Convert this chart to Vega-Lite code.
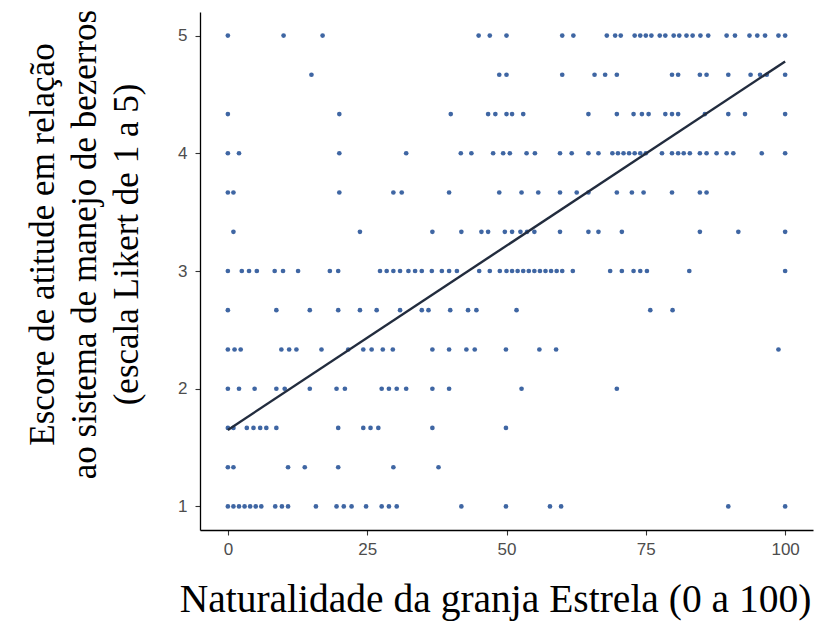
{
  "$schema": "https://vega.github.io/schema/vega-lite/v6.json",
  "autosize": "none",
  "width": 613,
  "height": 518,
  "padding": {"left": 200, "top": 12, "right": 4, "bottom": 104},
  "background": "white",
  "config": {"view": {"stroke": null}},
  "datasets": {
    "pts": [
      {"x":0,"y":5},{"x":10,"y":5},{"x":17,"y":5},{"x":45,"y":5},{"x":47,"y":5},{"x":50,"y":5},{"x":60,"y":5},{"x":62,"y":5},{"x":68,"y":5},{"x":69.5,"y":5},{"x":70.5,"y":5},{"x":73,"y":5},{"x":74,"y":5},{"x":75,"y":5},{"x":76,"y":5},{"x":77.5,"y":5},{"x":78.5,"y":5},{"x":80,"y":5},{"x":81,"y":5},{"x":82.3,"y":5},{"x":83.4,"y":5},{"x":84.8,"y":5},{"x":86.2,"y":5},{"x":89.5,"y":5},{"x":91,"y":5},{"x":93.6,"y":5},{"x":95,"y":5},{"x":96.4,"y":5},{"x":98.8,"y":5},{"x":100,"y":5},
      {"x":15,"y":4.667},{"x":48.7,"y":4.667},{"x":50,"y":4.667},{"x":60,"y":4.667},{"x":65.8,"y":4.667},{"x":67.7,"y":4.667},{"x":69.8,"y":4.667},{"x":79.7,"y":4.667},{"x":80.8,"y":4.667},{"x":84.7,"y":4.667},{"x":85.9,"y":4.667},{"x":89.8,"y":4.667},{"x":93.8,"y":4.667},{"x":95.5,"y":4.667},{"x":96.7,"y":4.667},{"x":100,"y":4.667},
      {"x":0,"y":4.333},{"x":20,"y":4.333},{"x":40,"y":4.333},{"x":46.7,"y":4.333},{"x":48,"y":4.333},{"x":50,"y":4.333},{"x":51,"y":4.333},{"x":53,"y":4.333},{"x":64.7,"y":4.333},{"x":69.8,"y":4.333},{"x":72.8,"y":4.333},{"x":74.3,"y":4.333},{"x":75.5,"y":4.333},{"x":78.5,"y":4.333},{"x":79.7,"y":4.333},{"x":80.8,"y":4.333},{"x":85.6,"y":4.333},{"x":89.8,"y":4.333},{"x":92.8,"y":4.333},{"x":100,"y":4.333},
      {"x":0,"y":4},{"x":2,"y":4},{"x":20,"y":4},{"x":32,"y":4},{"x":41.8,"y":4},{"x":43.7,"y":4},{"x":47.6,"y":4},{"x":49.4,"y":4},{"x":50.6,"y":4},{"x":53.6,"y":4},{"x":55.1,"y":4},{"x":59.6,"y":4},{"x":61.7,"y":4},{"x":64.7,"y":4},{"x":66.5,"y":4},{"x":69,"y":4},{"x":70,"y":4},{"x":71,"y":4},{"x":72,"y":4},{"x":73,"y":4},{"x":74,"y":4},{"x":75,"y":4},{"x":77.9,"y":4},{"x":79.7,"y":4},{"x":80.8,"y":4},{"x":81.8,"y":4},{"x":82.9,"y":4},{"x":84.7,"y":4},{"x":85.9,"y":4},{"x":87.7,"y":4},{"x":89.5,"y":4},{"x":90.7,"y":4},{"x":95.8,"y":4},{"x":100,"y":4},
      {"x":0,"y":3.667},{"x":1,"y":3.667},{"x":20,"y":3.667},{"x":29.7,"y":3.667},{"x":31.2,"y":3.667},{"x":39.7,"y":3.667},{"x":48.7,"y":3.667},{"x":52.7,"y":3.667},{"x":55.7,"y":3.667},{"x":59.6,"y":3.667},{"x":62.6,"y":3.667},{"x":64.7,"y":3.667},{"x":69.8,"y":3.667},{"x":72.5,"y":3.667},{"x":74.6,"y":3.667},{"x":79.7,"y":3.667},{"x":84.7,"y":3.667},{"x":85.9,"y":3.667},
      {"x":1,"y":3.333},{"x":23.7,"y":3.333},{"x":36.7,"y":3.333},{"x":41.9,"y":3.333},{"x":45.5,"y":3.333},{"x":46.7,"y":3.333},{"x":49.7,"y":3.333},{"x":51,"y":3.333},{"x":52.5,"y":3.333},{"x":53.7,"y":3.333},{"x":55,"y":3.333},{"x":59.6,"y":3.333},{"x":64.7,"y":3.333},{"x":66.5,"y":3.333},{"x":70.7,"y":3.333},{"x":84.7,"y":3.333},{"x":91.6,"y":3.333},{"x":100,"y":3.333},
      {"x":0,"y":3},{"x":2.5,"y":3},{"x":3.8,"y":3},{"x":5.2,"y":3},{"x":8.4,"y":3},{"x":9.9,"y":3},{"x":12.6,"y":3},{"x":18.3,"y":3},{"x":19.8,"y":3},{"x":27.3,"y":3},{"x":28.5,"y":3},{"x":29.7,"y":3},{"x":30.9,"y":3},{"x":32.4,"y":3},{"x":33.6,"y":3},{"x":34.8,"y":3},{"x":36.6,"y":3},{"x":38.4,"y":3},{"x":39.7,"y":3},{"x":41.1,"y":3},{"x":45.1,"y":3},{"x":47,"y":3},{"x":48.8,"y":3},{"x":50,"y":3},{"x":51,"y":3},{"x":52,"y":3},{"x":53,"y":3},{"x":54,"y":3},{"x":55,"y":3},{"x":56,"y":3},{"x":57,"y":3},{"x":58,"y":3},{"x":59,"y":3},{"x":60,"y":3},{"x":61.9,"y":3},{"x":68.6,"y":3},{"x":70.7,"y":3},{"x":72.8,"y":3},{"x":74,"y":3},{"x":75.2,"y":3},{"x":82.8,"y":3},{"x":100,"y":3},
      {"x":0,"y":2.667},{"x":8.7,"y":2.667},{"x":14.7,"y":2.667},{"x":19.8,"y":2.667},{"x":23.7,"y":2.667},{"x":26.7,"y":2.667},{"x":30.9,"y":2.667},{"x":34.8,"y":2.667},{"x":36,"y":2.667},{"x":39.9,"y":2.667},{"x":43.1,"y":2.667},{"x":44.6,"y":2.667},{"x":51.8,"y":2.667},{"x":75.8,"y":2.667},{"x":79.8,"y":2.667},
      {"x":0,"y":2.333},{"x":1.2,"y":2.333},{"x":2.3,"y":2.333},{"x":9.6,"y":2.333},{"x":11,"y":2.333},{"x":12.3,"y":2.333},{"x":16.8,"y":2.333},{"x":21.6,"y":2.333},{"x":24.3,"y":2.333},{"x":25.8,"y":2.333},{"x":27.8,"y":2.333},{"x":29.6,"y":2.333},{"x":36.7,"y":2.333},{"x":39.7,"y":2.333},{"x":42.8,"y":2.333},{"x":44.3,"y":2.333},{"x":49.9,"y":2.333},{"x":55.9,"y":2.333},{"x":58.9,"y":2.333},{"x":98.8,"y":2.333},
      {"x":0,"y":2},{"x":2,"y":2},{"x":4.8,"y":2},{"x":8.7,"y":2},{"x":10.2,"y":2},{"x":14.7,"y":2},{"x":19.5,"y":2},{"x":21,"y":2},{"x":27.6,"y":2},{"x":28.9,"y":2},{"x":30.3,"y":2},{"x":32,"y":2},{"x":36.7,"y":2},{"x":39.7,"y":2},{"x":52.7,"y":2},{"x":69.8,"y":2},
      {"x":0,"y":1.667},{"x":1,"y":1.667},{"x":3.4,"y":1.667},{"x":4.6,"y":1.667},{"x":5.8,"y":1.667},{"x":6.9,"y":1.667},{"x":8.7,"y":1.667},{"x":19.8,"y":1.667},{"x":24.3,"y":1.667},{"x":25.6,"y":1.667},{"x":27,"y":1.667},{"x":36.7,"y":1.667},{"x":49.9,"y":1.667},
      {"x":0,"y":1.333},{"x":1,"y":1.333},{"x":10.8,"y":1.333},{"x":13.8,"y":1.333},{"x":19.8,"y":1.333},{"x":29.7,"y":1.333},{"x":37.8,"y":1.333},
      {"x":0,"y":1},{"x":1,"y":1},{"x":2,"y":1},{"x":3,"y":1},{"x":4,"y":1},{"x":5,"y":1},{"x":6,"y":1},{"x":8.5,"y":1},{"x":9.7,"y":1},{"x":10.8,"y":1},{"x":15.8,"y":1},{"x":19.5,"y":1},{"x":20.8,"y":1},{"x":22.2,"y":1},{"x":24.8,"y":1},{"x":27.6,"y":1},{"x":28.9,"y":1},{"x":30.3,"y":1},{"x":41.9,"y":1},{"x":49.9,"y":1},{"x":57.8,"y":1},{"x":59.8,"y":1},{"x":89.8,"y":1},{"x":100,"y":1}
    ],
    "fit": [
      {"x": 0, "y": 1.65},
      {"x": 100, "y": 4.78}
    ]
  },
  "encoding": {
    "x": {
      "field": "x", "type": "quantitative",
      "scale": {"domain": [-5, 105], "nice": false, "zero": false},
      "axis": {
        "values": [0, 25, 50, 75, 100],
        "title": "Naturalidade da granja Estrela (0 a 100)",
        "grid": false,
        "domainColor": "#000000", "domainWidth": 1.3,
        "tickColor": "#333333", "tickSize": 5, "tickWidth": 1.1,
        "labelColor": "#4d4d4d", "labelFont": "Liberation Sans", "labelFontSize": 17, "labelPadding": 6,
        "titleFont": "Liberation Serif", "titleFontSize": 39.5, "titleFontWeight": "normal", "titleColor": "#000000",
        "titlePadding": 23, "titleX": 295
      }
    },
    "y": {
      "field": "y", "type": "quantitative",
      "scale": {"domain": [0.8, 5.2], "nice": false, "zero": false},
      "axis": {
        "values": [1, 2, 3, 4, 5],
        "title": ["Escore de atitude em relação", "ao sistema de manejo de bezerros", "(escala Likert de 1 a 5)"],
        "grid": false,
        "domainColor": "#000000", "domainWidth": 1.3,
        "tickColor": "#333333", "tickSize": 5, "tickWidth": 1.1,
        "labelColor": "#4d4d4d", "labelFont": "Liberation Sans", "labelFontSize": 17, "labelPadding": 8,
        "titleFont": "Liberation Serif", "titleFontSize": 35, "titleFontWeight": "normal", "titleColor": "#000000",
        "titleLineHeight": 42,
        "titleX": -158, "titleY": 232, "titleAngle": -90, "titleAlign": "center", "titleBaseline": "middle"
      }
    }
  },
  "layer": [
    {
      "data": {"name": "pts"},
      "mark": {"type": "circle", "size": 22, "color": "#3f66a3", "opacity": 1}
    },
    {
      "data": {"name": "fit"},
      "mark": {"type": "line", "color": "#222c3e", "strokeWidth": 2.4}
    }
  ]
}
